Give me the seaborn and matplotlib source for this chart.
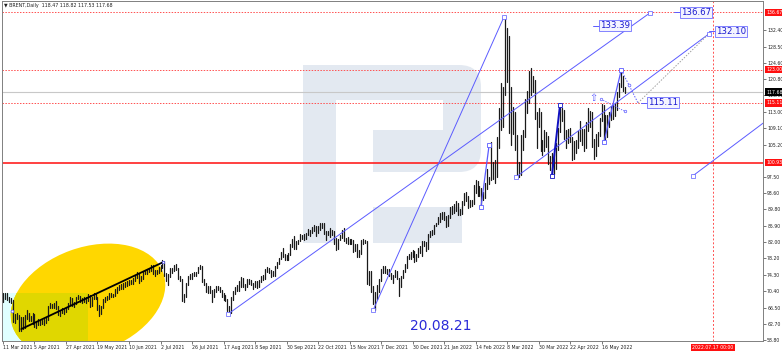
import numpy as np
import pandas as pd
import matplotlib
matplotlib.use("Agg")
import matplotlib.pyplot as plt
import matplotlib.patches as mpatches
import matplotlib.transforms as mtransforms
import seaborn as sns

# ------------------------------------------------------------------ data
title_text = "\u25BC BRENT,Daily  118.47 118.82 117.53 117.68"
date_labels = ["11 Mar 2021", "5 Apr 2021", "27 Apr 2021", "19 May 2021", "10 Jun 2021",
               "2 Jul 2021", "26 Jul 2021", "17 Aug 2021", "8 Sep 2021", "30 Sep 2021",
               "22 Oct 2021", "15 Nov 2021", "7 Dec 2021", "30 Dec 2021", "21 Jan 2022",
               "14 Feb 2022", "8 Mar 2022", "30 Mar 2022", "22 Apr 2022", "16 May 2022"]
label_step = 16

bar_low = [
    67.9, 68.6, 68.2, 67.8, 67.6, 63.1, 62.8, 63.7, 60.9, 60.9, 61.4, 61.7, 63.9, 63.3, 63.2, 62.6,
    61.9, 61.7, 62.3, 62.4, 62.6, 62.4, 62.9, 63.5, 66.4, 66.3, 66.4, 66.2, 64.8, 64.6, 65.1, 65.0,
    65.5, 66.2, 67.1, 66.8, 66.6, 67.3, 68.5, 67.9, 67.6, 67.9, 67.6, 68.1, 66.7, 66.9, 68.5, 68.5,
    66.0, 64.6, 64.9, 66.3, 67.9, 68.2, 68.6, 69.0, 69.0, 69.2, 69.9, 70.7, 70.9, 71.0, 71.3, 71.7,
    71.9, 72.0, 72.2, 72.8, 73.6, 72.3, 72.8, 73.3, 74.4, 74.5, 75.0, 75.3, 74.5, 73.9, 74.5, 74.6,
    75.3, 75.9, 74.0, 72.9, 71.9, 73.8, 74.8, 75.1, 75.4, 73.2, 72.8, 68.0, 67.9, 69.1, 71.8, 73.4,
    73.3, 74.1, 74.1, 74.6, 75.6, 72.6, 71.8, 70.1, 70.0, 70.0, 67.9, 68.9, 70.3, 70.7, 70.2, 68.9,
    68.4, 68.0, 65.8, 65.0, 65.1, 68.4, 69.7, 70.4, 70.5, 71.5, 71.3, 70.6, 71.3, 72.2, 71.9, 71.0,
    71.4, 71.2, 71.3, 72.6, 73.1, 73.4, 75.0, 74.7, 73.8, 74.0, 74.1, 75.9, 76.9, 78.0, 78.6, 77.9,
    77.9, 77.9, 78.9, 81.0, 80.5, 80.5, 81.6, 82.2, 82.7, 82.6, 82.9, 83.7, 83.6, 84.1, 84.7, 83.6,
    84.1, 85.0, 85.4, 84.0, 82.5, 83.7, 83.3, 83.8, 81.6, 80.1, 80.5, 82.5, 83.1, 82.3, 81.9, 81.6,
    81.5, 81.6, 79.7, 79.9, 78.4, 78.5, 79.3, 81.6, 81.8, 72.1, 71.8, 70.2, 67.4, 65.9, 68.5, 70.1,
    72.9, 74.7, 74.8, 74.4, 74.0, 73.2, 72.4, 73.7, 73.2, 69.3, 71.5, 73.6, 75.0, 75.9, 78.0, 78.1,
    78.6, 77.3, 77.6, 78.5, 79.5, 78.7, 81.1, 79.9, 80.5, 83.2, 83.7, 84.0, 85.8, 86.3, 86.8, 87.5,
    87.2, 85.6, 85.8, 87.8, 88.8, 88.9, 89.5, 88.4, 88.6, 88.8, 90.8, 91.7, 90.2, 90.4, 90.6, 91.0,
    93.8, 92.9, 93.0, 90.5, 92.0, 92.5, 94.6, 95.8, 96.7, 97.0, 96.0, 97.5, 104.5, 108.7, 109.5, 117.0,
    120.0, 108.0, 105.0, 107.8, 104.0, 97.4, 97.5, 98.0, 104.0, 107.0, 112.7, 115.0, 117.0, 117.8, 111.2, 104.3,
    109.4, 103.6, 102.7, 103.8, 104.6, 100.6, 99.2, 97.8, 98.3, 99.5, 104.0, 108.3, 110.8, 106.6, 104.3, 105.7,
    105.8, 101.6, 101.7, 103.2, 104.5, 106.0, 105.1, 103.6, 104.3, 108.5, 109.4, 104.7, 101.7, 102.6, 104.9, 107.2,
    110.7, 105.8, 106.5, 107.0, 109.5, 111.0, 111.2, 112.0, 113.4, 116.6, 118.9, 118.0, 117.53,
]
bar_high = [
    69.9, 70.0, 69.9, 69.1, 68.8, 68.3, 64.9, 65.3, 64.8, 64.3, 64.3, 64.8, 65.9, 65.3, 64.6, 65.1,
    64.9, 63.4, 63.7, 63.6, 63.6, 63.8, 64.3, 66.8, 67.5, 67.3, 67.6, 68.1, 66.9, 65.7, 66.4, 66.2,
    66.7, 67.6, 68.9, 68.8, 67.9, 69.0, 69.6, 69.2, 68.7, 69.0, 69.0, 69.7, 69.4, 68.9, 70.0, 69.7,
    69.0, 67.0, 66.9, 68.6, 68.9, 69.2, 69.9, 70.0, 69.8, 71.0, 71.5, 71.8, 72.1, 72.3, 72.5, 72.8,
    73.0, 73.0, 73.6, 74.2, 74.9, 74.6, 73.9, 75.3, 75.5, 75.7, 76.0, 76.5, 76.6, 75.5, 75.5, 76.2,
    76.6, 77.8, 77.6, 74.8, 74.5, 75.8, 75.8, 76.7, 76.8, 75.9, 74.1, 73.4, 69.8, 72.4, 73.9, 74.4,
    74.8, 75.0, 75.0, 76.2, 76.6, 76.3, 73.2, 72.4, 71.6, 71.6, 70.7, 70.9, 71.6, 71.7, 71.4, 70.6,
    69.9, 69.4, 68.5, 66.8, 68.9, 70.5, 71.4, 71.8, 72.9, 73.7, 73.5, 72.0, 73.3, 73.3, 73.0, 72.4,
    72.9, 72.9, 73.1, 73.9, 74.2, 75.6, 76.1, 75.9, 75.4, 75.3, 76.4, 77.4, 78.2, 79.7, 80.7, 79.2,
    79.1, 79.5, 81.5, 82.8, 83.5, 82.3, 82.6, 84.0, 83.8, 83.9, 84.1, 85.1, 85.0, 85.6, 86.0, 85.8,
    85.8, 86.7, 86.7, 86.6, 84.8, 84.7, 85.3, 85.0, 84.8, 83.0, 82.9, 83.8, 84.9, 85.5, 83.1, 83.3,
    82.7, 82.9, 82.6, 81.5, 81.7, 80.1, 82.6, 82.9, 82.6, 82.3, 75.1, 75.3, 71.7, 70.2, 71.9, 73.3,
    75.7, 76.3, 76.4, 75.7, 75.6, 74.7, 74.2, 75.5, 75.3, 73.6, 74.1, 75.4, 76.9, 78.7, 79.3, 79.7,
    80.1, 79.9, 79.3, 80.6, 81.2, 82.4, 82.4, 82.0, 83.9, 84.8, 85.0, 86.2, 86.7, 87.9, 89.0, 89.2,
    89.1, 88.3, 88.4, 90.5, 90.7, 91.0, 91.7, 91.3, 89.8, 91.7, 93.7, 94.0, 93.0, 92.0, 92.1, 95.6,
    96.8, 96.6, 95.3, 95.0, 94.0, 96.0, 99.5, 97.5, 105.8, 101.0, 101.5, 107.0, 113.9, 119.8, 119.0, 135.8,
    133.0, 131.0, 119.0, 114.2, 113.0, 107.5, 101.0, 107.5, 108.6, 116.0, 118.0, 122.8, 123.3, 121.5, 120.5, 112.9,
    114.0, 113.0, 106.3, 108.6, 108.2, 107.3, 102.6, 103.2, 103.0, 105.6, 109.2, 114.6, 113.9, 113.5, 108.7, 108.9,
    109.1, 107.0, 106.1, 106.2, 108.4, 110.7, 109.0, 108.8, 110.5, 114.0, 113.2, 113.0, 106.5, 107.8, 108.3, 111.6,
    114.8, 114.5, 112.2, 112.3, 113.0, 114.4, 114.6, 115.0, 117.7, 119.8, 122.9, 121.5, 118.82,
]

y_ticks = [58.80, 62.70, 66.50, 70.40, 74.30, 78.20, 82.00, 85.90, 89.80, 93.60, 97.50,
           105.20, 109.10, 113.00, 116.90, 120.80, 124.60, 128.50, 132.40]
dotted_levels = [136.67, 123.00, 115.11]
red_boxes = [136.67, 123.00, 115.11, 100.93]
support_level = 100.93
last_price = 117.68
future_bar = 360.6
future_label = "2022.07.17 00:00"
watermark = "20.08.21"

blue_lines = [((114.4, 65.0), (328.6, 136.5)),
              ((188.0, 65.9), (254.5, 135.6)),
              ((260.6, 97.5), (358.5, 131.5)),
              ((350.4, 97.8), (400.0, 115.2))]
wave_feb = [(242.8, 90.5), (246.9, 105.1)]
wave_apr = [(278.8, 97.8), (282.9, 114.6)]
wave_may = [(305.2, 105.8), (314.0, 122.9)]
dotted_blue = [(314.0, 122.9), (318.0, 119.3), (322.5, 115.11)]
dotted_gray = [(322.5, 115.11), (358.0, 131.3)]
dotted_small = [(303.7, 116.0), (315.9, 113.1)]
arrow_point = (299.7, 116.3)
black_trend = [(9.3, 61.4), (81.4, 77.3)]
price_labels = [("133.39", 302.7, 133.39), ("136.67", 343.8, 136.67),
                ("132.10", 361.6, 132.10), ("115.11", 327.1, 115.11)]

# ------------------------------------------------------------------ figure
sns.set_theme(style="white")
plt.rcParams["font.family"] = ["DejaVu Sans"]
W, H = 782, 351
fig = plt.figure(figsize=(W / 100, H / 100), dpi=100)
fig.patch.set_facecolor("white")
ax = fig.add_axes([2 / W, (H - 341) / H, (763 - 2) / W, (341 - 1) / H])
ax.set_facecolor("white")
pxT = mtransforms.Affine2D().scale(1 / W, -1 / H).translate(0, 1) + fig.transFigure
pxB = mtransforms.Affine2D().scale(1 / W, 1 / H) + fig.transFigure

# watermark logo (background)
logo_c = "#e3e9f1"
def rect(x0, y0, x1, y1, c, z):
    p = mpatches.Rectangle((x0, y0), x1 - x0, y1 - y0, transform=pxT, facecolor=c,
                           edgecolor="none", zorder=z)
    ax.add_patch(p)
    return p
bowl = mpatches.FancyBboxPatch((380, 65), 101, 107, boxstyle="round,pad=0,rounding_size=22",
                               transform=pxT, facecolor=logo_c, edgecolor="none", zorder=0.1)
ax.add_patch(bowl)
rect(373, 65, 420, 172, logo_c, 0.1)
rect(303, 65, 336, 243, logo_c, 0.1)
rect(303, 65, 420, 100, logo_c, 0.1)
rect(336, 100, 443, 130, "white", 0.15)
rect(373, 207, 462, 243, logo_c, 0.1)

# highlight rectangle and ellipse
cyan = mpatches.Rectangle((2, 10), 86, 48, transform=pxB, facecolor="#E0FFFF",
                          edgecolor="none", zorder=0.3)
ax.add_patch(cyan)
ell = mpatches.Ellipse((88, 51), 160, 105, angle=20, transform=pxB, facecolor="#FFD700",
                       edgecolor="none", zorder=0.35)
ax.add_patch(ell)
overlap = mpatches.Rectangle((2, 10), 86, 48, transform=pxB, facecolor="#E0D700",
                             edgecolor="none", zorder=0.4)
ax.add_patch(overlap)
overlap.set_clip_path(ell)

# horizontal / vertical levels
for lv in dotted_levels:
    ax.axhline(lv, color="#ff5050", lw=0.7, ls=(0, (1.5, 1.5)), zorder=1)
ax.axhline(last_price, color="#c8c8c8", lw=0.8, zorder=1)
ax.axhline(support_level, color="#ff2020", lw=1.2, zorder=1)
ax.axvline(future_bar, color="#ff5050", lw=0.7, ls=(0, (2, 2)), zorder=1)

# price bars via seaborn
n = len(bar_low)
idx = np.arange(n)
bars = pd.DataFrame({"bar": np.concatenate([idx, idx]),
                     "x": np.concatenate([idx, idx]).astype(float),
                     "price": np.concatenate([bar_low, bar_high])})
sns.lineplot(data=bars, x="x", y="price", units="bar", estimator=None, sort=False,
             color="#1a1a1a", lw=0.9, ax=ax, zorder=3, legend=False)

# trend lines
blue = "#5b5bff"
for (a, b) in blue_lines:
    ax.plot([a[0], b[0]], [a[1], b[1]], color=blue, lw=0.7, zorder=4)
    for p in (a, b):
        ax.plot(*p, marker="s", ms=2.2, mfc="white", mec=blue, mew=0.5, zorder=5)
for seg, c, lw in ((wave_feb, blue, 0.9), (wave_apr, "#1010c0", 1.4), (wave_may, blue, 0.9)):
    xs, ys = zip(*seg)
    ax.plot(xs, ys, color=c, lw=lw, zorder=4)
    ax.plot(xs, ys, ls="none", marker="s", ms=2.2, mfc="white", mec=c, mew=0.6, zorder=5)
xs, ys = zip(*dotted_blue)
ax.plot(xs, ys, color=blue, lw=0.7, ls=(0, (1.5, 1.5)), zorder=4)
ax.plot(xs[1], ys[1], marker="o", ms=2, mfc="white", mec=blue, mew=0.5, zorder=5)
xs, ys = zip(*dotted_gray)
ax.plot(xs, ys, color="#a0a0a0", lw=0.7, ls=(0, (1.5, 1.5)), zorder=4)
xs, ys = zip(*dotted_small)
ax.plot(xs, ys, color=blue, lw=0.6, ls=(0, (1.5, 1.5)), zorder=4)
ax.plot(xs, ys, ls="none", marker="o", ms=1.8, mfc="white", mec=blue, mew=0.5, zorder=5)
ax.text(arrow_point[0], arrow_point[1], "\u21E7", color=blue, fontsize=7,
        ha="center", va="center", zorder=6)
xs, ys = zip(*black_trend)
ax.plot(xs, ys, color="black", lw=1.3, zorder=4)
ax.plot(xs[1], ys[1], marker="s", ms=2, mfc="white", mec=blue, mew=0.5, zorder=5)
ax.plot(4.7, 65.7, marker="o", ms=2, mfc="white", mec=blue, mew=0.5, zorder=5)

for txt, xl, yl in price_labels:
    ax.plot([xl - 3.0, xl], [yl, yl], color=blue, lw=0.7, zorder=5)
    ax.text(xl + 0.6, yl, txt, fontsize=6.2, color="#1a1ad0", ha="left", va="center",
            zorder=7, bbox=dict(boxstyle="square,pad=0.12", fc="#f4f4ff", ec="#7070ff", lw=0.6))

ax.text(441, 326, watermark, transform=pxT, fontsize=10, color="#2a2ad8",
        ha="center", va="center", zorder=6)

# axes
ax.set_xlim(-0.5, 386.0)
ax.set_ylim(58.56, 139.32)
ax.yaxis.tick_right()
ax.set_yticks(y_ticks)
ax.set_yticklabels([f"{v:.2f}" for v in y_ticks])
ax.set_xticks([label_step * k for k in range(len(date_labels))])
ax.set_xticklabels(date_labels, ha="left")
ax.tick_params(axis="both", which="both", labelsize=3.3, length=2, width=0.5,
               color="#404040", labelcolor="#202020", pad=1,
               bottom=True, right=True, left=False, top=False)
ax.set_xlabel("")
ax.set_ylabel("")
for s in ax.spines.values():
    s.set_color("#808080")
    s.set_linewidth(0.7)

bl = mtransforms.blended_transform_factory(ax.transAxes, ax.transData)
for v in red_boxes:
    ax.text(1.004, v, f"{v:.2f}", transform=bl, fontsize=3.3, color="white", ha="left",
            va="center", zorder=8, clip_on=False,
            bbox=dict(boxstyle="square,pad=0.25", fc="#ff1010", ec="none"))
ax.text(1.004, last_price, f"{last_price:.2f}", transform=bl, fontsize=3.3, color="white",
        ha="left", va="center", zorder=8, clip_on=False,
        bbox=dict(boxstyle="square,pad=0.25", fc="black", ec="none"))
bx = mtransforms.blended_transform_factory(ax.transData, ax.transAxes)
ax.text(future_bar, -0.013, future_label, transform=bx, fontsize=3.3, color="white",
        ha="center", va="top", zorder=8, clip_on=False,
        bbox=dict(boxstyle="square,pad=0.3", fc="#ff1010", ec="none"))

fig.text(4 / W, 1 - 5 / H, title_text, fontsize=3.4, color="#202020", va="center", ha="left")

fig.savefig("out.png", dpi=100, facecolor="white")
